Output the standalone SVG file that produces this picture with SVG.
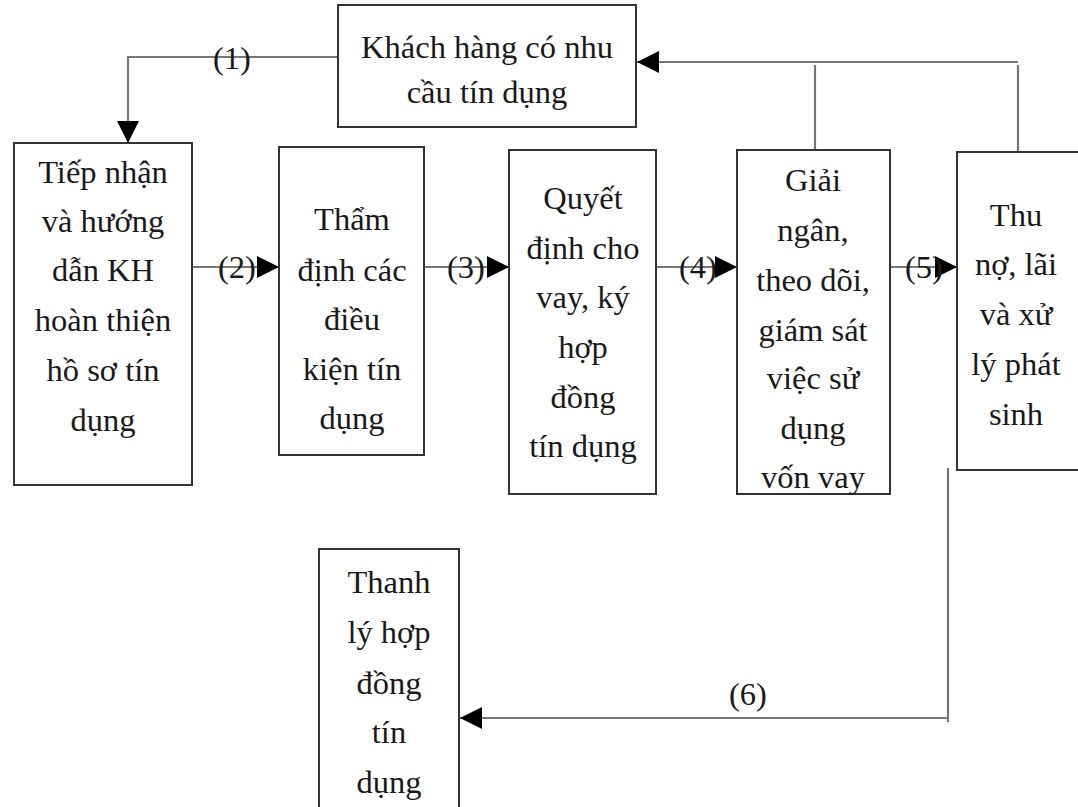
<svg xmlns="http://www.w3.org/2000/svg" width="1078" height="807" viewBox="0 0 1078 807">
<style>
.box{fill:#fff;stroke:#333;stroke-width:2}
.ln{fill:none;stroke:#777;stroke-width:2.2}
.t{font-family:"Liberation Serif","DejaVu Serif","Times New Roman",serif;font-size:32.5px;fill:#1a1a1a;text-anchor:middle}
</style>
<defs>
<marker id="ah" markerWidth="22" markerHeight="22" refX="10" refY="5" orient="auto" markerUnits="userSpaceOnUse" viewBox="0 0 10 10">
<path d="M0,0 L10,5 L0,10 Z" fill="#000"/>
</marker>
</defs>
<rect width="1078" height="807" fill="#fff"/>
<g id="connectors">
<path class="ln" d="M338,57 H128 V143" marker-end="url(#ah)"/>
<path class="ln" d="M192,267 H279" marker-end="url(#ah)"/>
<path class="ln" d="M424,267 H509" marker-end="url(#ah)"/>
<path class="ln" d="M656,267 H737" marker-end="url(#ah)"/>
<path class="ln" d="M890,267 H957" marker-end="url(#ah)"/>
<path class="ln" d="M1018,62 H637" marker-end="url(#ah)"/>
<path class="ln" d="M815,150 V65"/>
<path class="ln" d="M1018,152 V65"/>
<path class="ln" d="M948,468 V722 M948,718 H460" marker-end="url(#ah)"/>
<g class="t">
<text x="232" y="69">(1)</text>
<text x="237" y="278">(2)</text>
<text x="466" y="278">(3)</text>
<text x="698" y="278">(4)</text>
<text x="924" y="278">(5)</text>
<text x="748" y="705">(6)</text>
</g>
</g>
<g id="n0" class="t">
<rect class="box" x="338" y="5" width="298" height="122"/>
<text x="487" y="58">Khách hàng có nhu</text>
<text x="487" y="103">cầu tín dụng</text>
</g>
<g id="n1" class="t">
<rect class="box" x="14" y="143" width="178" height="342"/>
<text x="103" y="183">Tiếp nhận</text>
<text x="103" y="232">và hướng</text>
<text x="103" y="281">dẫn KH</text>
<text x="103" y="331">hoàn thiện</text>
<text x="103" y="381">hồ sơ tín</text>
<text x="103" y="431">dụng</text>
</g>
<g id="n2" class="t">
<rect class="box" x="279" y="147" width="145" height="308"/>
<text x="352" y="230">Thẩm</text>
<text x="352" y="281">định các</text>
<text x="352" y="330">điều</text>
<text x="352" y="380">kiện tín</text>
<text x="352" y="429">dụng</text>
</g>
<g id="n3" class="t">
<rect class="box" x="509" y="150" width="147" height="344"/>
<text x="583" y="209">Quyết</text>
<text x="583" y="259">định cho</text>
<text x="583" y="308">vay, ký</text>
<text x="583" y="358">hợp</text>
<text x="583" y="408">đồng</text>
<text x="583" y="457">tín dụng</text>
</g>
<g id="n4" class="t">
<rect class="box" x="737" y="150" width="153" height="344"/>
<text x="813" y="191">Giải</text>
<text x="813" y="241">ngân,</text>
<text x="813" y="291">theo dõi,</text>
<text x="813" y="341">giám sát</text>
<text x="813" y="389">việc sử</text>
<text x="813" y="439">dụng</text>
<text x="813" y="488">vốn vay</text>
</g>
<g id="n5" class="t">
<rect class="box" x="957" y="152" width="130" height="318"/>
<text x="1016" y="226">Thu</text>
<text x="1016" y="275">nợ, lãi</text>
<text x="1016" y="325">và xử</text>
<text x="1016" y="375">lý phát</text>
<text x="1016" y="425">sinh</text>
</g>
<g id="n6" class="t">
<rect class="box" x="319" y="549" width="140" height="270"/>
<text x="389" y="593">Thanh</text>
<text x="389" y="643">lý hợp</text>
<text x="389" y="694">đồng</text>
<text x="389" y="743">tín</text>
<text x="389" y="793">dụng</text>
</g>
</svg>
